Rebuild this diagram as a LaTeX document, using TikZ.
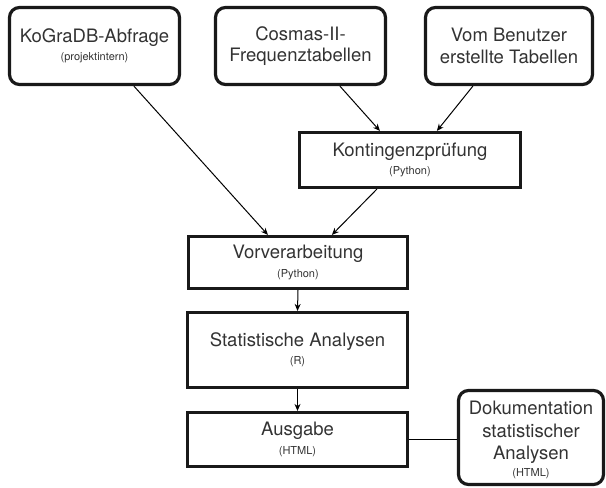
\documentclass[tikz,border=0pt]{standalone}
\usepackage{fontspec}
\setmainfont{TeX Gyre Heros}
\usetikzlibrary{arrows.meta,calc}
\begin{document}
\begin{tikzpicture}[x=1pt,y=-1pt,
  boxbase/.style={draw=black!90,line width=3.2pt,inner sep=0pt,align=center,text=black!80,
    font=\fontsize{18.5}{21.5}\selectfont},
  roundbox/.style={boxbase,rounded corners=10pt},
  sqbox/.style={boxbase},
  arr/.style={line width=1pt,-{Stealth[length=7pt,width=6pt]}},
  link/.style={line width=1pt}]
\useasboundingbox (0,0) rectangle (606,488);
\newcommand{\sm}[1]{{\fontsize{11}{13}\selectfont #1}}
\node[roundbox,minimum width=170pt,minimum height=77pt] (kog) at (94.5,46)
  {KoGraDB-Abfrage\\[-3pt]\sm{(projektintern)}};
\node[roundbox,minimum width=170pt,minimum height=77pt] (cos) at (300.5,46)
  {Cosmas-II-\\Frequenztabellen};
\node[roundbox,minimum width=167pt,minimum height=77pt] (vom) at (509,46)
  {Vom Benutzer\\erstellte Tabellen};
\node[sqbox,minimum width=221pt,minimum height=55pt] (kon) at (410,160)
  {Kontingenzprüfung\\[-3pt]\sm{(Python)}};
\node[sqbox,minimum width=219pt,minimum height=52pt] (vor) at (298,262.5)
  {Vorverarbeitung\\[-3pt]\sm{(Python)}};
\node[sqbox,minimum width=220pt,minimum height=75pt] (sta) at (297.5,350)
  {Statistische Analysen\\[-3pt]\sm{(R)}};
\node[sqbox,minimum width=220pt,minimum height=54pt] (aus) at (297.5,439.5)
  {Ausgabe\\[-3pt]\sm{(HTML)}};
\node[roundbox,minimum width=145pt,minimum height=94pt,font=\fontsize{18.5}{22.5}\selectfont] (dok) at (531,437.5)
  {\rule{0pt}{18pt}Dokumentation\\statistischer\\Analysen\\[-6pt]\sm{(HTML)}};
\draw[arr] ([xshift=126pt]kog.south west) -- ([xshift=81pt]vor.north west);
\draw[arr] ([xshift=126pt]cos.south west) -- ([xshift=82pt]kon.north west);
\draw[arr] ([xshift=49pt]vom.south west) -- ([xshift=139pt]kon.north west);
\draw[arr] ([xshift=79pt]kon.south west) -- ([xshift=145pt]vor.north west);
\draw[arr] (vor.south) -- (sta.north);
\draw[arr] (sta.south) -- (aus.north);
\draw[link] (aus.east) -- (aus.east -| dok.west);
\end{tikzpicture}
\end{document}
